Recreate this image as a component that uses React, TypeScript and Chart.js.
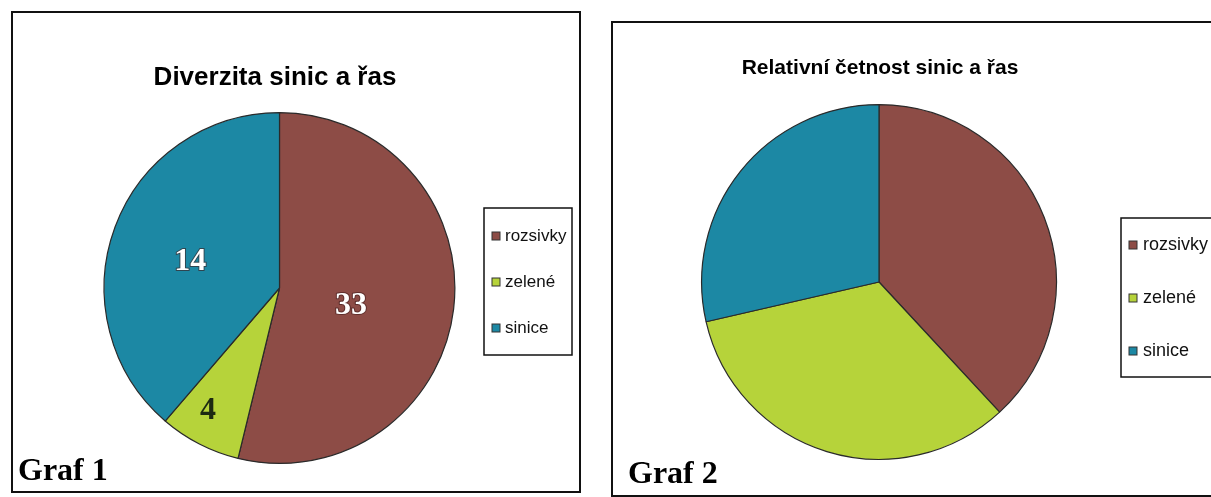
import { useEffect, useRef } from "react";
import { Chart, registerables } from "chart.js";

Chart.register(...registerables);

// ---- data ----
const categories = ["rozsivky", "zelené", "sinice"];
const sliceColors = ["#8d4c46", "#b6d33a", "#1c88a4"];
// Graf 1: numbers printed on the slices, and slice shares as drawn in the picture (%)
const diversityCounts = [33, 4, 14];
const diversityShares = [53.8, 7.5, 38.7];
// Graf 2: slice shares as drawn in the picture (%)
const relativeShares = [38.1, 33.3, 28.6];
const chartTitles = ["Diverzita sinic a řas", "Relativní četnost sinic a řas"];
const chartTags = ["Graf 1", "Graf 2"];

const W = 1211;
const H = 497;

const decorPlugin = {
  id: "decor",
  afterDraw(chart: any, _args: any, o: any) {
    const ctx = chart.ctx as CanvasRenderingContext2D;
    ctx.save();
    // frame
    ctx.strokeStyle = "#111";
    ctx.lineWidth = 2;
    ctx.strokeRect(o.box.x, o.box.y, o.box.w, o.box.h);
    // title
    ctx.fillStyle = "#000";
    ctx.font = o.titleFont;
    ctx.textAlign = "center";
    ctx.textBaseline = "middle";
    ctx.fillText(o.title, o.titleX, o.titleY);
    // tag
    ctx.font = 'bold 32px "Liberation Serif", serif';
    ctx.textAlign = "left";
    ctx.textBaseline = "alphabetic";
    ctx.fillText(o.tag, o.tagX, o.tagY);
    // legend
    const L = o.legend;
    ctx.strokeStyle = "#111";
    ctx.lineWidth = 1.5;
    ctx.strokeRect(L.x, L.y, L.w, L.h);
    const labels = chart.data.labels as string[];
    const ds = chart.data.datasets[0];
    labels.forEach((lab, i) => {
      const y = L.firstY + i * L.gap;
      ctx.fillStyle = ds.backgroundColor[i];
      ctx.fillRect(L.x + L.sqX, y - 4, 8, 8);
      ctx.strokeStyle = "#333";
      ctx.lineWidth = 1;
      ctx.strokeRect(L.x + L.sqX, y - 4, 8, 8);
      ctx.fillStyle = "#111";
      ctx.font = L.font;
      ctx.textAlign = "left";
      ctx.textBaseline = "middle";
      ctx.fillText(lab, L.x + L.textX, y);
    });
    // value labels
    if (o.values) {
      const meta = chart.getDatasetMeta(0);
      meta.data.forEach((arc: any, i: number) => {
        const p = arc.getProps(["x", "y", "startAngle", "endAngle", "outerRadius"], true);
        const place = o.placement[i];
        const mid = (p.startAngle + p.endAngle) / 2 + (place.da * Math.PI) / 180;
        const r = p.outerRadius * place.f;
        const x = p.x + Math.cos(mid) * r;
        const y = p.y + Math.sin(mid) * r;
        ctx.font = 'bold 32px "Liberation Serif", serif';
        ctx.textAlign = "center";
        ctx.textBaseline = "middle";
        const txt = String(o.values[i]);
        if (place.light) {
          ctx.lineWidth = 2;
          ctx.strokeStyle = "rgba(60,25,25,0.6)";
          ctx.strokeText(txt, x, y);
          ctx.fillStyle = "#ffffff";
        } else {
          ctx.fillStyle = "#1d2a12";
        }
        ctx.fillText(txt, x, y);
      });
    }
    ctx.restore();
  },
};

function makeChart(canvas: HTMLCanvasElement, data: number[], padding: any, decor: any) {
  return new Chart(canvas, {
    type: "pie",
    data: {
      labels: categories,
      datasets: [
        {
          data,
          backgroundColor: sliceColors,
          borderColor: "#2a2a2a",
          borderWidth: 1.2,
        },
      ],
    },
    options: {
      responsive: false,
      animation: false,
      layout: { padding },
      plugins: {
        legend: { display: false },
        tooltip: { enabled: false },
        title: { display: false },
        decor,
      } as any,
    },
    plugins: [decorPlugin],
  });
}

export default function App() {
  const c1 = useRef<HTMLCanvasElement>(null);
  const c2 = useRef<HTMLCanvasElement>(null);

  useEffect(() => {
    const ch1 = makeChart(
      c1.current!,
      diversityShares,
      { left: 103.5, right: W - 455.5, top: 112, bottom: H - 464 },
      {
        box: { x: 12, y: 12, w: 568, h: 480 },
        title: chartTitles[0],
        titleFont: 'bold 26px "Liberation Sans", Arial, sans-serif',
        titleX: 275,
        titleY: 78,
        tag: chartTags[0],
        tagX: 18,
        tagY: 480,
        legend: {
          x: 484,
          y: 208,
          w: 88,
          h: 147,
          firstY: 236,
          gap: 46,
          sqX: 8,
          textX: 21,
          font: '17px "Liberation Sans", Arial, sans-serif',
        },
        values: diversityCounts,
        placement: [
          { f: 0.42, da: 7, light: true },
          { f: 0.81, da: 3, light: false },
          { f: 0.53, da: -4, light: true },
        ],
      }
    );
    const ch2 = makeChart(
      c2.current!,
      relativeShares,
      { left: 701, right: W - 1057, top: 104, bottom: H - 460 },
      {
        box: { x: 612, y: 22, w: 620, h: 474 },
        title: chartTitles[1],
        titleFont: 'bold 21px "Liberation Sans", Arial, sans-serif',
        titleX: 880,
        titleY: 68,
        tag: chartTags[1],
        tagX: 628,
        tagY: 483,
        legend: {
          x: 1121,
          y: 218,
          w: 100,
          h: 159,
          firstY: 245,
          gap: 53,
          sqX: 8,
          textX: 22,
          font: '18px "Liberation Sans", Arial, sans-serif',
        },
        values: null,
        placement: [],
      }
    );
    return () => {
      ch1.destroy();
      ch2.destroy();
    };
  }, []);

  return (
    <div style={{ position: "fixed", left: 0, top: 0, width: W, height: H, background: "#fff" }}>
      <canvas ref={c1} width={W} height={H} style={{ position: "absolute", left: 0, top: 0 }} />
      <canvas ref={c2} width={W} height={H} style={{ position: "absolute", left: 0, top: 0 }} />
    </div>
  );
}
